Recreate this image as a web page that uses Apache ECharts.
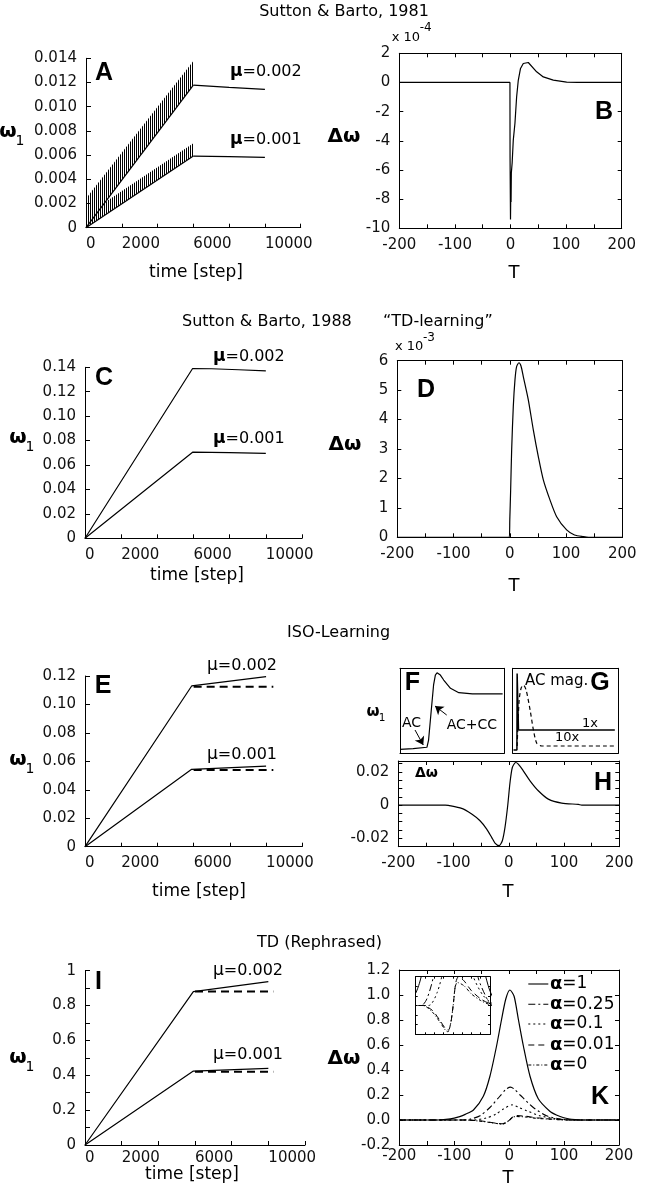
<!DOCTYPE html>
<html>
<head>
<meta charset="utf-8">
<script src="https://cdn.jsdelivr.net/npm/echarts@6/dist/echarts.min.js"></script>
<style>
html,body{margin:0;padding:0;background:#fff;}
#main{width:645px;height:1188px;}
</style>
</head>
<body>
<div id="main"></div>
<script>
// values
// A: Sutton & Barto 1981 (hatched bands: lower edge / spike tips)
var aTime = [0, 6000];
var aLow2 = [0, 0.01179];
var aTop2 = [0.00242, 0.01377];
var aLow1 = [0, 0.00592];
var aTop1 = [0.00105, 0.00697];
var aTailT = [6000, 8000, 10000];
var aTail2 = [0.01179, 0.0116, 0.01143];
var aTail1 = [0.00592, 0.00587, 0.00581];

// B: weight change vs T (x 1e-4)
var bT  = [-200, -1, -0.8, 0, 0.5, 1, 1.5, 3, 5, 8, 11, 14, 18, 23, 32, 47, 59, 77, 101, 120, 200];
var bDw = [0, 0, -5.1, -9.4, -7.6, -8.2, -6.2, -5.5, -3.95, -2.8, -1, 0.15, 0.96, 1.3, 1.37, 0.73, 0.38, 0.16, 0.02, 0, 0];

// C: Sutton & Barto 1988
var cT2 = [0, 5950, 7000, 8500, 10000];
var cW2 = [0, 0.139, 0.1388, 0.138, 0.137];
var cT1 = [0, 5950, 8000, 10000];
var cW1 = [0, 0.0705, 0.0702, 0.0696];

// D: TD weight change (x 1e-3)
var dT  = [-200, -1, 0, 1.5, 3.3, 6.2, 9.2, 12.1, 16.3, 19.9, 24, 32.9, 41.8, 50.7, 59.6, 71.4, 83.3, 101, 115, 131, 140, 200];
var dDw = [0, 0, 0.6, 1.6, 2.97, 4.44, 5.35, 5.8, 5.93, 5.82, 5.46, 4.67, 3.65, 2.74, 1.95, 1.27, 0.7, 0.25, 0.08, 0.02, 0, 0];

// E: ISO-learning
var eT = [0, 5890, 10000];
var eW2 = [0, 0.113, 0.1195];
var eW1 = [0, 0.0544, 0.0567];
var eDashT = [6000, 10400];
var eDash2 = [0.1125, 0.1125];
var eDash1 = [0.0539, 0.0539];

// F, G: schematic traces (arbitrary units 0..100)
var fX = [0, 12.6, 25.8, 27.4, 30, 32.2, 33.9, 35.5, 38.7, 41.9, 48.4, 56.4, 69.4, 98.4];
var fY = [4.7, 5.6, 7.1, 15.6, 51, 80.4, 92, 94.8, 92, 86.2, 76.5, 71.3, 69.8, 69.8];
var fArrowAC = [[14.4, 27.4], [22.3, 9.8]];
var fArrowACCC = [[44.8, 45], [33.6, 55.6]];
var gSolidX = [0.75, 4, 4.2, 5.2, 5.5, 96.7];
var gSolidY = [3.9, 3.9, 94, 94, 27.4, 27.4];
var gDashX = [4.2, 6.1, 8, 10.2, 12.7, 16.5, 19.6, 22.8, 27.5, 96.7];
var gDashY = [8.6, 62.7, 76.8, 80.4, 74.5, 50.9, 27.4, 11.8, 8.6, 8.6];

// H: ISO weight change
var hT  = [-200, -115, -109.5, -85.3, -67.2, -52.1, -40, -31, -25, -17.7, -11.7, -6.9, -2, 2.2, 6.4, 12.5, 17.2, 26.2, 38.4, 53.4, 71.5, 95.7, 125.8, 132, 200];
var hDw = [0, 0, -0.0002, -0.002, -0.0054, -0.0094, -0.0144, -0.0194, -0.0228, -0.0244, -0.0214, -0.0134, -0.0004, 0.0136, 0.0226, 0.0256, 0.0246, 0.0206, 0.0146, 0.0086, 0.0036, 0.0012, 0.0004, 0, 0];

// I: TD rephrased
var iT = [0, 5910, 10000];
var iW2 = [0, 0.88, 0.937];
var iW1 = [0, 0.424, 0.44];
var iDashT = [6000, 10270];
var iDash2 = [0.88, 0.88];
var iDash1 = [0.42, 0.42];

// K: weight change for several alpha
var k1T = [-200, -130, -115, -100, -90, -80, -65, -47, -35, -23, -14, -6, 1.5, 9, 17, 26, 38, 53, 74, 86, 98, 110, 120, 130, 200];
var k1  = [0, 0, 0.005, 0.015, 0.027, 0.045, 0.08, 0.19, 0.35, 0.59, 0.80, 0.97, 1.04, 0.99, 0.80, 0.59, 0.35, 0.17, 0.07, 0.04, 0.02, 0.008, 0.003, 0, 0];
var k025T = [-200, -85, -70, -53, -35, -17, -6, 2.5, 10, 20, 44, 68, 92, 105, 200];
var k025  = [0, 0, 0.008, 0.034, 0.1, 0.19, 0.245, 0.263, 0.245, 0.2, 0.1, 0.034, 0.008, 0, 0];
var k01T = [-200, -65, -42, -24, -10, 6, 18, 32, 56, 80, 104, 120, 200];
var k01  = [0, 0, 0.016, 0.047, 0.09, 0.121, 0.1, 0.074, 0.034, 0.013, 0.003, 0, 0];
var k001T = [-200, -80, -55, -35, -20, -12, -5, 2, 8, 15, 30, 50, 75, 100, 120, 200];
var k001  = [0, 0, -0.006, -0.018, -0.028, -0.03, -0.02, 0.005, 0.028, 0.035, 0.03, 0.018, 0.008, 0.002, 0, 0];
var k0T = [-200, -80, -55, -35, -20, -13, -6, 1, 6, 12, 30, 50, 75, 100, 120, 200];
var k0  = [0, 0, -0.008, -0.02, -0.03, -0.032, -0.022, 0, 0.022, 0.028, 0.024, 0.014, 0.006, 0.001, 0, 0];
var kNames = ['α=1', 'α=0.25', 'α=0.1', 'α=0.01', 'α=0'];

var stepLabels = [0, 2000, 6000, 10000];

function zip(a, b) { return a.map(function (v, i) { return [v, b[i]]; }); }

var grids = [], xAxes = [], yAxes = [], series = [], gfx = [];
var FONT = 'DejaVu Sans';

function addGrid(b) {
  grids.push({left: b[0], top: b[1], width: b[2], height: b[3], containLabel: false, outerBoundsMode: 'none'});
  return grids.length - 1;
}
function axis(dim, gi, o) {
  var a = {
    type: 'value', gridIndex: gi, min: o.min, max: o.max, interval: o.int, position: o.pos,
    axisLine: {show: true, onZero: false, lineStyle: {color: '#000', width: 1}},
    axisTick: {show: !!o.tick, inside: true, length: o.tickLen || 4, lineStyle: {color: '#000', width: 1}},
    axisLabel: {show: !!o.fmt, formatter: o.fmt, margin: o.margin || 9, color: '#111',
      fontFamily: FONT, fontSize: 15, showMinLabel: true, showMaxLabel: true, align: o.align},
    splitLine: {show: false}, minorTick: {show: false}
  };
  var arr = dim === 'x' ? xAxes : yAxes;
  arr.push(a);
  return arr.length - 1;
}
function ext(o, p) { return Object.assign({}, o, p); }
function boxPanel(b, x, y, noTick) {
  var gi = addGrid(b);
  var t = !noTick;
  var xi = axis('x', gi, ext(x, {pos: 'bottom', tick: t}));
  axis('x', gi, ext(x, {pos: 'top', tick: t, fmt: null}));
  var yi = axis('y', gi, ext(y, {pos: 'left', tick: t}));
  axis('y', gi, ext(y, {pos: 'right', tick: t, fmt: null}));
  return {x: xi, y: yi};
}
function lPanel(b, y, xMargin) {
  var gi = addGrid(b);
  var xi = axis('x', gi, {min: 0, max: 12000, int: 2000, pos: 'bottom', tick: true, align: 'left', margin: xMargin || 9,
    fmt: function (v) { return stepLabels.indexOf(v) >= 0 ? String(v) : ''; }});
  var yi = axis('y', gi, ext(y, {pos: 'left', tick: true, tickLen: 5}));
  return {x: xi, y: yi};
}
function line(ax, data, st, extra) {
  series.push(Object.assign({type: 'line', xAxisIndex: ax.x, yAxisIndex: ax.y, data: data,
    showSymbol: false, symbol: 'none', silent: true, animation: false, z: 3,
    lineStyle: Object.assign({color: '#000', width: 1.2, type: 'solid'}, st || {})}, extra || {}));
}
var SMOOTH = {smooth: 0.25};

var hc = document.createElement('canvas');
hc.width = 2; hc.height = 2;
var hg = hc.getContext('2d');
hg.fillStyle = '#000'; hg.fillRect(0, 0, 1, 2);
var hatch = {type: 'pattern', image: hc, repeat: 'repeat'};

function band(ax, ts, lo, hi) {
  series.push({type: 'custom', xAxisIndex: ax.x, yAxisIndex: ax.y, silent: true, animation: false, z: 2,
    data: ts.map(function (t, i) { return [t, lo[i], hi[i]]; }),
    encode: {x: 0, y: [1, 2]},
    renderItem: function (params, api) {
      if (params.dataIndex !== 0) return null;
      var pts = [], i;
      for (i = 0; i < ts.length; i++) pts.push(api.coord([ts[i], lo[i]]));
      for (i = ts.length - 1; i >= 0; i--) pts.push(api.coord([ts[i], hi[i]]));
      return {type: 'polygon', shape: {points: pts}, style: {fill: hatch, stroke: null}};
    }});
}

function txt(s, x, y, o) {
  o = o || {};
  gfx.push({type: 'text', x: x, y: y, rotation: o.rot || 0, silent: true, z: 10,
    style: {text: s, fill: '#000', fontFamily: o.family || FONT, fontSize: o.size || 16,
      fontWeight: o.bold ? 'bold' : 'normal', align: o.align || 'center', verticalAlign: 'middle',
      textAlign: o.align || 'center', textVerticalAlign: 'middle', rich: o.rich}});
}
function letter(s, x, y) { txt(s, x, y, {size: 25, bold: true, family: 'Liberation Sans'}); }
function omega1(x, y, s) {
  s = s || 1;
  txt('ω', x, y, {size: 20 * s, bold: true});
  txt('1', x + 12 * s, y + 9 * s, {size: 14 * s});
}
function mu(s, x, y, boldMu) {
  txt('{m|μ}' + s, x, y, {size: 16, align: 'left',
    rich: {m: {fontWeight: boldMu ? 'bold' : 'normal', fontSize: 17, fontFamily: FONT}}});
}
function scaleNote(p, x, y) {
  txt('x 10', x, y, {size: 13, align: 'left'});
  txt(p, x + 28, y - 9, {size: 12, align: 'left'});
}

var tFmt = function (v) { return Math.round(v) % 100 === 0 ? String(Math.round(v)) : ''; };
var tAxis = {min: -200, max: 200, int: 50, fmt: tFmt};

// ---- A ----
var A = lPanel([86, 58.3, 214.7, 169.4], {min: 0, max: 0.014, int: 0.002,
  fmt: function (v) { return v === 0 ? '0' : v.toFixed(3); }});
band(A, aTime, aLow2, aTop2);
band(A, aTime, aLow1, aTop1);
line(A, zip(aTime, aLow2));
line(A, zip(aTime, aLow1));
line(A, zip(aTailT, aTail2));
line(A, zip(aTailT, aTail1));

// ---- B ----
var B = boxPanel([399.3, 53.3, 222.4, 175], tAxis, {min: -10, max: 2, int: 2, fmt: function (v) { return String(v); }});
line(B, zip(bT, bDw));

// ---- C ----
var C = lPanel([85, 367.3, 217, 171], {min: 0, max: 0.14, int: 0.02,
  fmt: function (v) { return v === 0 ? '0' : v.toFixed(2); }});
line(C, zip(cT2, cW2));
line(C, zip(cT1, cW1));

// ---- D ----
var D = boxPanel([397.3, 360.7, 225, 176.6], tAxis, {min: 0, max: 6, int: 1, fmt: function (v) { return String(v); }});
line(D, zip(dT, dDw), null, SMOOTH);

// ---- E ----
var E = lPanel([85, 676, 217.3, 170.7], {min: 0, max: 0.12, int: 0.02,
  fmt: function (v) { return v === 0 ? '0' : v.toFixed(2); }});
line(E, zip(eT, eW2));
line(E, zip(eT, eW1));
line(E, zip(eDashT, eDash2), {type: [8, 5], width: 2});
line(E, zip(eDashT, eDash1), {type: [8, 5], width: 2});

// ---- F ----
var unit = {min: 0, max: 100, int: 50};
var F = boxPanel([400, 668.3, 104.3, 85], unit, unit, true);
line(F, zip(fX, fY), null, {markLine: {silent: true, animation: false, symbol: ['none', 'arrow'], symbolSize: 8,
  label: {show: false}, lineStyle: {color: '#000', width: 1, type: 'solid'},
  data: [[{coord: fArrowAC[0]}, {coord: fArrowAC[1]}], [{coord: fArrowACCC[0]}, {coord: fArrowACCC[1]}]]}});

// ---- G ----
var G = boxPanel([512.7, 668.3, 105.6, 85], unit, unit, true);
line(G, zip(gSolidX, gSolidY), {width: 1.5});
line(G, zip(gDashX, gDashY), {type: [4, 3], width: 1.2}, SMOOTH);

// ---- H ----
var H = boxPanel([398.3, 761, 221, 85.7], tAxis, {min: -0.025, max: 0.0265, int: 0.005, tickLen: 4,
  fmt: function (v) { var m = Math.round(v * 1000); return m === 0 ? '0' : (Math.abs(m) === 20 ? v.toFixed(2) : ''); }});
line(H, zip(hT, hDw), null, SMOOTH);

// ---- I ----
var I = lPanel([85, 970.7, 220, 174.3], {min: 0, max: 1, int: 0.1,
  fmt: function (v) { var m = Math.round(v * 10); if (m % 2) return ''; return m === 0 ? '0' : (m === 10 ? '1' : v.toFixed(1)); }}, 6);
line(I, zip(iT, iW2));
line(I, zip(iT, iW1));
line(I, zip(iDashT, iDash2), {type: [8, 5], width: 2});
line(I, zip(iDashT, iDash1), {type: [8, 5], width: 2});

// ---- K ----
var kStyles = [
  {type: 'solid', width: 1.2},
  {type: [7, 3, 2, 3], width: 1.1},
  {type: [2, 3], width: 1.1},
  {type: [6, 4], width: 1.1},
  {type: [3, 2, 1, 2], width: 1.1}
];
var kData = [zip(k1T, k1), zip(k025T, k025), zip(k01T, k01), zip(k001T, k001), zip(k0T, k0)];
var K = boxPanel([399.3, 970, 219.7, 175], ext(tAxis, {margin: 4}), {min: -0.2, max: 1.2, int: 0.2,
  fmt: function (v) { return v.toFixed(1); }});
kData.forEach(function (d, i) { line(K, d, kStyles[i], SMOOTH); });
var Kin = boxPanel([415.7, 976.7, 74.3, 57.6], {min: -100, max: 100, int: 25},
  {min: -0.035, max: 0.035, int: 0.035 / 3, tickLen: 2});
xAxes[Kin.x].axisTick.length = 2;
xAxes[Kin.x + 1].axisTick.length = 2;
kData.forEach(function (d, i) { line(Kin, d, ext(kStyles[i], {width: 1}), Object.assign({z: 12, clip: true}, SMOOTH)); });

// legend for K
var legY = [984, 1004.3, 1024, 1045, 1065];
kNames.forEach(function (n, i) {
  gfx.push({type: 'line', silent: true, z: 10, shape: {x1: 528.3, y1: legY[i], x2: 548.3, y2: legY[i]},
    style: {stroke: '#000', lineWidth: 1.1, lineDash: kStyles[i].type === 'solid' ? null : kStyles[i].type}});
  txt('{a|α}' + n.slice(1), 550, legY[i], {size: 17, align: 'left',
    rich: {a: {fontWeight: 'bold', fontSize: 18, fontFamily: FONT}}});
});

// ---- text ----
txt('Sutton & Barto, 1981', 344, 12);
txt('Sutton & Barto, 1988', 182, 322, {align: 'left'});
txt('“TD-learning”', 383, 322, {align: 'left'});
txt('ISO-Learning', 287, 633, {align: 'left'});
txt('TD (Rephrased)', 257, 943, {align: 'left'});

omega1(8, 132); omega1(18, 438); omega1(18, 760); omega1(18, 1058);
txt('time [step]', 196, 273, {size: 17});
txt('time [step]', 197, 576, {size: 17});
txt('time [step]', 199, 892, {size: 17});
txt('time [step]', 192, 1175, {size: 17});
txt('T', 514, 273, {size: 18}); txt('T', 514, 586, {size: 18});
txt('T', 508, 892, {size: 18}); txt('T', 508, 1178, {size: 18});
txt('Δω', 344, 137, {size: 20, bold: true});
txt('Δω', 345, 445, {size: 20, bold: true});
txt('Δω', 344, 1059, {size: 20, bold: true});
txt('Δω', 415, 773, {size: 14, bold: true, align: 'left'});
scaleNote('-4', 391.7, 37.3);
scaleNote('-3', 395, 347);

mu('=0.002', 230, 71.7, true); mu('=0.001', 230, 140, true);
mu('=0.002', 213, 356.7, true); mu('=0.001', 213, 439, true);
mu('=0.002', 207, 666, false); mu('=0.001', 207, 755, false);
mu('=0.002', 213, 970.7, false); mu('=0.001', 213, 1055, false);

letter('A', 104, 73); letter('B', 604, 112); letter('C', 104, 378); letter('D', 426, 390);
letter('E', 103, 686); letter('F', 412.5, 683); letter('G', 600, 683); letter('H', 603, 783);
letter('I', 98.5, 982); letter('K', 600, 1097);

omega1(373, 712, 0.75);
txt('AC', 402, 723, {size: 14, align: 'left'});
txt('AC+CC', 446.7, 725, {size: 14, align: 'left'});
txt('AC mag.', 525, 681, {size: 15, align: 'left'});
txt('1x', 582, 724, {size: 13, align: 'left'});
txt('10x', 555, 738, {size: 13, align: 'left'});

var chart = echarts.init(document.getElementById('main'), null, {renderer: 'canvas'});
chart.setOption({
  animation: false,
  backgroundColor: '#fff',
  grid: grids,
  xAxis: xAxes,
  yAxis: yAxes,
  series: series,
  graphic: {elements: gfx}
});
</script>
</body>
</html>
